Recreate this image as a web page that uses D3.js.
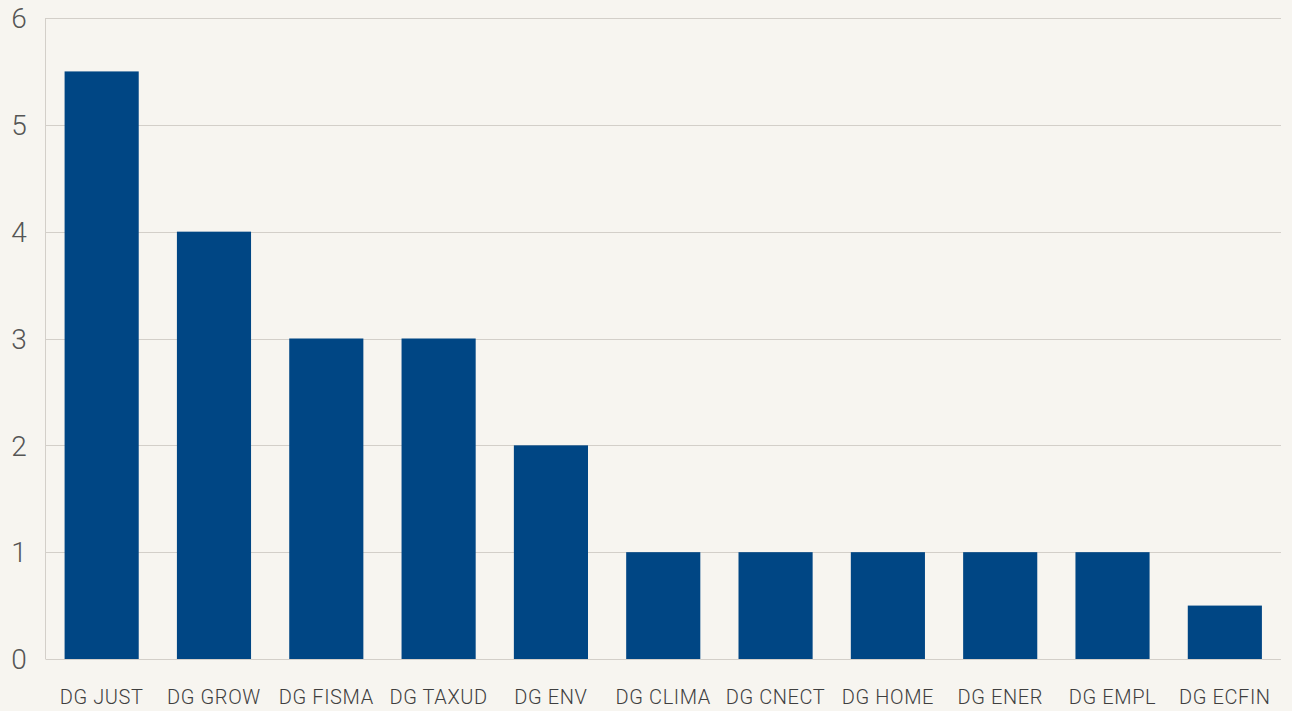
<!DOCTYPE html>
<html><head><meta charset="utf-8">
<script src="https://cdn.jsdelivr.net/npm/d3@7"></script>
<style>
html,body{margin:0;padding:0;background:#f7f5f0;}
svg{display:block;}
</style></head>
<body><svg id="c" width="1292" height="711"></svg>
<script>
const categories = ["DG JUST","DG GROW","DG FISMA","DG TAXUD","DG ENV","DG CLIMA","DG CNECT","DG HOME","DG ENER","DG EMPL","DG ECFIN"];
const values = [5.5,4,3,3,2,1,1,1,1,1,0.5];
const yTicks = [0,1,2,3,4,5,6];

const svg = d3.select("#c");
const W = 1292, H = 711;
const m = {left:45.5, right:11, top:18, bottom:52};
svg.append("rect").attr("width",W).attr("height",H).attr("fill","#f7f5f0");

const x = d3.scaleBand().domain(categories).range([m.left, W - m.right]).paddingInner(0.34).paddingOuter(0.17);
const y = d3.scaleLinear().domain([0,6]).range([H - m.bottom, m.top]);

const g = svg.append("g");
g.selectAll("line.grid").data(yTicks).enter().append("line")
  .attr("x1", m.left).attr("x2", W - m.right)
  .attr("y1", d => Math.round(y(d)) + 0.5).attr("y2", d => Math.round(y(d)) + 0.5)
  .attr("stroke", "#d3cfc9").attr("stroke-width", 1);
g.append("line").attr("x1", m.left).attr("x2", m.left)
  .attr("y1", y(6)).attr("y2", y(0)).attr("stroke", "#d3cfc9");

g.selectAll("rect.bar").data(values).enter().append("rect")
  .attr("x", (d,i) => x(categories[i])).attr("width", x.bandwidth())
  .attr("y", d => y(d)).attr("height", d => y(0) - y(d))
  .attr("fill", "#004684");

const yAxis = d3.axisLeft(y).tickValues(yTicks).tickSize(0).tickPadding(0).tickFormat(d3.format("d"));
const ya = svg.append("g").attr("transform", `translate(${19},0)`).call(yAxis);
ya.select(".domain").remove();
ya.selectAll("text").attr("text-anchor","middle").attr("dy","0.35em")
  .attr("font-family","Roboto").attr("font-weight",300).attr("font-size",28).attr("fill","#555");

const xAxis = d3.axisBottom(x).tickSize(0).tickPadding(0);
const xa = svg.append("g").attr("transform", `translate(0,${697})`).call(xAxis);
xa.select(".domain").remove();
xa.selectAll("text").attr("dy","0.35em").attr("font-family","Roboto").attr("font-weight",300)
  .attr("font-size",20).attr("letter-spacing","0.6px").attr("fill","#3f3f3f");
</script></body></html>
